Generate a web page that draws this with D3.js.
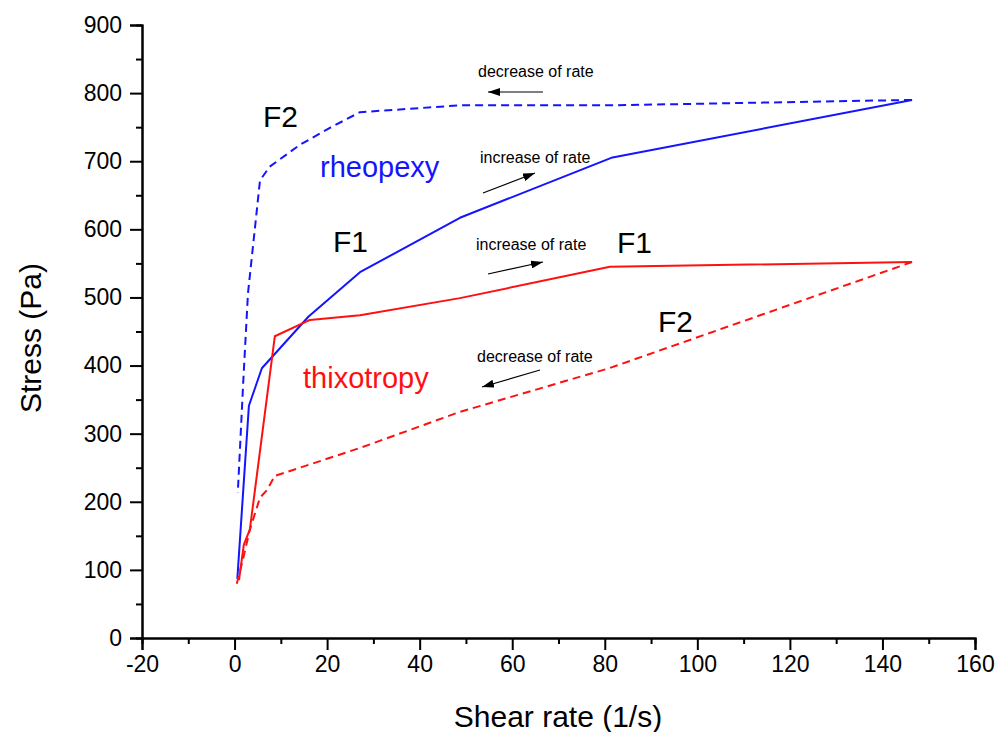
<!DOCTYPE html>
<html><head><meta charset="utf-8">
<script src="https://cdn.jsdelivr.net/npm/d3@7"></script>
<style>body{margin:0;background:#fff}svg{display:block}text{font-family:"Liberation Sans",Arial,sans-serif}</style>
</head><body><svg id="c" width="1000" height="732"></svg>
<script>
// Data (shear rate 1/s, stress Pa)
const rheoIncX = [0.6, 3.1, 5.9, 16, 27.1, 48.7, 81.4, 146.4];
const rheoIncY = [87, 341, 396, 472, 537, 617, 705, 790];
const rheoDecX = [146.4, 80.9, 48.7, 27.1, 20.6, 14.1, 7.6, 5.5, 2.9, 1.9, 0.7];
const rheoDecY = [790, 782, 782, 772, 749, 724, 692, 672, 506, 379, 213];
const thixIncX = [0.96, 2.0, 3.3, 8.7, 16.3, 27.1, 48.7, 81.1, 146.4];
const thixIncY = [85, 137, 159, 443, 467, 474, 499, 545, 552];
const thixDecX = [146.4, 80.9, 48.7, 27.1, 14.1, 8.7, 7.0, 5.5, 3.3, 1.8, 0.45];
const thixDecY = [552, 396, 332, 279, 250, 238, 217, 206, 159, 115, 79];
const xTicks = [-20, 0, 20, 40, 60, 80, 100, 120, 140, 160];
const yTicks = [0, 100, 200, 300, 400, 500, 600, 700, 800, 900];

const svg = d3.select("#c");
const x = d3.scaleLinear().domain([-20, 160]).range([142, 975]);
const y = d3.scaleLinear().domain([0, 900]).range([638, 25]);

const xMinor = d3.range(-10, 160, 20);
const yMinor = d3.range(50, 900, 100);
const fmt = d => String(d);

// axes
const gx = svg.append("g").attr("transform", "translate(0,638)");
gx.call(d3.axisBottom(x).tickValues(xMinor).tickSize(6).tickFormat(""));
const gx2 = svg.append("g").attr("transform", "translate(0,638)");
gx2.call(d3.axisBottom(x).tickValues(xTicks).tickSize(12).tickPadding(6).tickFormat(fmt));
gx2.selectAll("text").attr("font-size", 23).attr("fill", "#000").attr("font-family", "Liberation Sans, Arial, sans-serif");
[gx, gx2].forEach(g => { g.select(".domain").attr("stroke-width", 2).attr("stroke", "#000"); g.selectAll(".tick line").attr("stroke-width", 2).attr("stroke", "#000"); });

const gy = svg.append("g").attr("transform", "translate(142,0)");
gy.call(d3.axisLeft(y).tickValues(yMinor).tickSize(6).tickFormat(""));
const gy2 = svg.append("g").attr("transform", "translate(142,0)");
gy2.call(d3.axisLeft(y).tickValues(yTicks).tickSize(12).tickPadding(8).tickFormat(fmt));
gy2.selectAll("text").attr("font-size", 23).attr("fill", "#000").attr("font-family", "Liberation Sans, Arial, sans-serif");
[gy, gy2].forEach(g => { g.select(".domain").attr("stroke-width", 2).attr("stroke", "#000"); g.selectAll(".tick line").attr("stroke-width", 2).attr("stroke", "#000"); });

// axis titles
svg.append("text").attr("x", 558).attr("y", 727).attr("text-anchor", "middle").attr("font-size", 30).text("Shear rate (1/s)");
svg.append("text").attr("transform", "translate(41,338) rotate(-90)").attr("text-anchor", "middle").attr("font-size", 30).text("Stress (Pa)");

// lines
const line = d3.line().x(d => x(d[0])).y(d => y(d[1]));
function draw(xs, ys, color, dash) {
  svg.append("path").datum(xs.map((v, i) => [v, ys[i]])).attr("d", line)
    .attr("fill", "none").attr("stroke", color).attr("stroke-width", 2)
    .attr("stroke-dasharray", dash || null).attr("stroke-linejoin", "round");
}
const BLUE = "#1414ff", RED = "#ff1010";
draw(rheoDecX, rheoDecY, BLUE, "8,5");
draw(rheoIncX, rheoIncY, BLUE);
draw(thixDecX, thixDecY, RED, "8,5");
draw(thixIncX, thixIncY, RED);

// annotations
const ann = [
  {t: "F2", x: 263, y: 127, s: 30, c: "#000"},
  {t: "rheopexy", x: 320, y: 177, s: 29, c: BLUE},
  {t: "F1", x: 333, y: 252, s: 30, c: "#000"},
  {t: "decrease of rate", x: 478, y: 77, s: 16, c: "#000"},
  {t: "increase of rate", x: 480, y: 163, s: 16, c: "#000"},
  {t: "increase of rate", x: 476, y: 250, s: 16, c: "#000"},
  {t: "F1", x: 617, y: 253, s: 30, c: "#000"},
  {t: "F2", x: 658, y: 332, s: 30, c: "#000"},
  {t: "decrease of rate", x: 477, y: 362, s: 16, c: "#000"},
  {t: "thixotropy", x: 303, y: 388, s: 29, c: RED}
];
ann.forEach(a => svg.append("text").attr("x", a.x).attr("y", a.y).attr("font-size", a.s).attr("fill", a.c).text(a.t));

// arrows
const defs = svg.append("defs");
defs.append("marker").attr("id", "ah").attr("viewBox", "0 0 12 8").attr("refX", 12).attr("refY", 4)
  .attr("markerWidth", 12).attr("markerHeight", 8).attr("markerUnits", "userSpaceOnUse").attr("orient", "auto")
  .append("path").attr("d", "M0,0 L12,4 L0,8 Z").attr("fill", "#000");
const arrows = [[543, 92, 488, 92], [483, 193, 535, 173], [488, 274, 543, 262], [540, 370, 482, 387]];
arrows.forEach(a => svg.append("line").attr("x1", a[0]).attr("y1", a[1]).attr("x2", a[2]).attr("y2", a[3])
  .attr("stroke", "#000").attr("stroke-width", 1.2).attr("marker-end", "url(#ah)"));
</script></body></html>
